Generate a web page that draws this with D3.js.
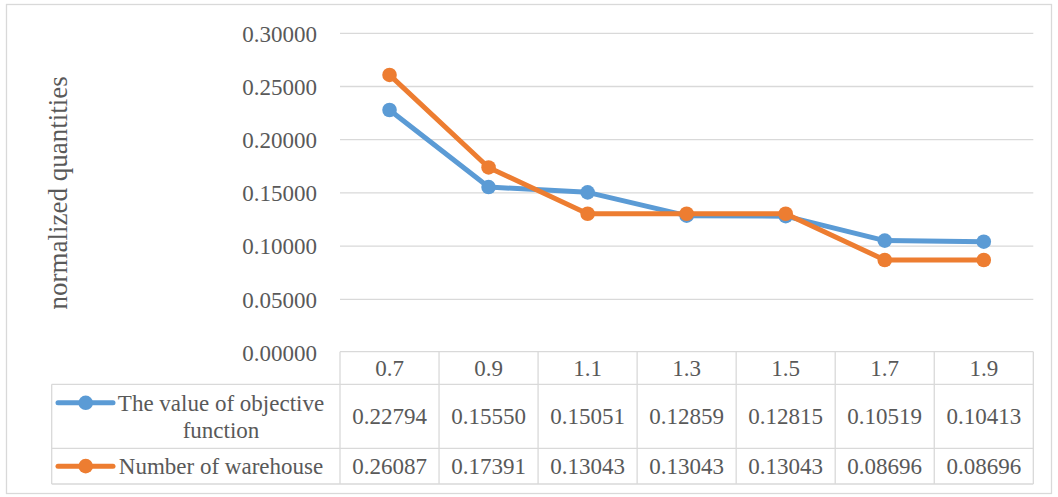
<!DOCTYPE html>
<html>
<head>
<meta charset="utf-8">
<script src="https://cdn.jsdelivr.net/npm/d3@7"></script>
<style>
  html, body { margin: 0; padding: 0; background: #fff; }
  svg { display: block; }
  text { font-family: "Liberation Serif", "Times New Roman", serif; fill: #595959; }
</style>
</head>
<body>
<script>
// Categories (x axis) and the two normalized series
const categories = ["0.7", "0.9", "1.1", "1.3", "1.5", "1.7", "1.9"];
const objectiveValues = [0.22794, 0.15550, 0.15051, 0.12859, 0.12815, 0.10519, 0.10413];
const warehouseValues = [0.26087, 0.17391, 0.13043, 0.13043, 0.13043, 0.08696, 0.08696];
const seriesNames = [["The value of objective", "function"], ["Number of warehouse"]];
const seriesColors = ["#5b9bd5", "#ed7d31"];
const yTicks = [0, 0.05, 0.10, 0.15, 0.20, 0.25, 0.30];
const yTitle = "normalized quantities";

const W = 1058, H = 497;
const plot = { left: 340, right: 1033.3, top: 33.3, bottom: 352.5 };
const table = { left: 51.7, row1: 351.7, row2: 384.3, row3: 448.3, bottom: 484 };
const grid = "#d9d9d9";
const fontSize = 23;
const lineWidth = 5;
const markerR = 7.3;

const svg = d3.select("body").append("svg").attr("width", W).attr("height", H);

// chart frame
svg.append("rect").attr("x", 6.5).attr("y", 4.5).attr("width", 1045).attr("height", 489)
  .attr("fill", "#fff").attr("stroke", grid).attr("stroke-width", 1.3);

const x = d3.scaleBand().domain(categories).range([plot.left, plot.right]).padding(0);
const y = d3.scaleLinear().domain([0, 0.30]).range([plot.bottom, plot.top]);

// horizontal gridlines
svg.append("g").selectAll("line").data(yTicks.filter(d => d > 0)).join("line")
  .attr("x1", plot.left).attr("x2", plot.right)
  .attr("y1", d => y(d)).attr("y2", d => y(d))
  .attr("stroke", grid).attr("stroke-width", 1.3);

// y axis labels
const yAxis = d3.axisLeft(y).tickValues(yTicks).tickFormat(d3.format(".5f")).tickSize(0).tickPadding(0);
const gy = svg.append("g").attr("transform", "translate(317,0)").call(yAxis);
gy.select(".domain").remove();
gy.selectAll("text").style("font-size", fontSize + "px")
  .style("font-family", '"Liberation Serif", serif').attr("fill", "#595959").attr("dy", "0.34em");

// y title
svg.append("text")
  .attr("transform", `translate(59,${(plot.top + plot.bottom) / 2}) rotate(-90)`)
  .attr("text-anchor", "middle").attr("dy", "0.3em").style("font-size", "27px").text(yTitle);

// data table grid
const tg = svg.append("g").attr("stroke", grid).attr("stroke-width", 1.3).attr("fill", "none");
const colEdges = categories.map(c => x(c)).concat([plot.right]);
// horizontal rules
tg.append("line").attr("x1", plot.left).attr("x2", plot.right).attr("y1", table.row1).attr("y2", table.row1);
[table.row2, table.row3, table.bottom].forEach(yy =>
  tg.append("line").attr("x1", table.left).attr("x2", plot.right).attr("y1", yy).attr("y2", yy));
// vertical rules
colEdges.forEach(xx =>
  tg.append("line").attr("x1", xx).attr("x2", xx).attr("y1", table.row1).attr("y2", table.bottom));
tg.append("line").attr("x1", table.left).attr("x2", table.left).attr("y1", table.row2).attr("y2", table.bottom);

// category labels
svg.append("g").selectAll("text").data(categories).join("text")
  .attr("x", d => x(d) + x.bandwidth() / 2).attr("y", (table.row1 + table.row2) / 2)
  .attr("dy", "0.35em").attr("text-anchor", "middle").style("font-size", fontSize + "px")
  .text(d => d);

const allSeries = [objectiveValues, warehouseValues];
const rowCenters = [(table.row2 + table.row3) / 2, (table.row3 + table.bottom) / 2];

// value cells
allSeries.forEach((vals, i) => {
  svg.append("g").selectAll("text").data(vals).join("text")
    .attr("x", (d, j) => x(categories[j]) + x.bandwidth() / 2).attr("y", rowCenters[i])
    .attr("dy", "0.35em").attr("text-anchor", "middle").style("font-size", fontSize + "px")
    .text(d => d3.format(".5f")(d));
});

// legend keys inside the table
const keyY = [table.row2 + 18.5, rowCenters[1]];
allSeries.forEach((vals, i) => {
  const g = svg.append("g");
  g.append("line").attr("x1", 58).attr("x2", 113).attr("y1", keyY[i]).attr("y2", keyY[i])
    .attr("stroke", seriesColors[i]).attr("stroke-width", lineWidth).attr("stroke-linecap", "round");
  g.append("circle").attr("cx", 85.7).attr("cy", keyY[i]).attr("r", markerR).attr("fill", seriesColors[i]);
  const lines = seriesNames[i];
  lines.forEach((t, k) => {
    g.append("text").attr("x", 221).attr("y", keyY[i] + k * 27.5).attr("dy", "0.35em")
      .attr("text-anchor", "middle").style("font-size", fontSize + "px").text(t);
  });
});

// series lines and markers
const line = d3.line().x((d, j) => x(categories[j]) + x.bandwidth() / 2).y(d => y(d));
allSeries.forEach((vals, i) => {
  svg.append("path").datum(vals).attr("d", line).attr("fill", "none")
    .attr("stroke", seriesColors[i]).attr("stroke-width", lineWidth).attr("stroke-linejoin", "round");
  svg.append("g").selectAll("circle").data(vals).join("circle")
    .attr("cx", (d, j) => x(categories[j]) + x.bandwidth() / 2).attr("cy", d => y(d))
    .attr("r", markerR).attr("fill", seriesColors[i]);
});
</script>
</body>
</html>
